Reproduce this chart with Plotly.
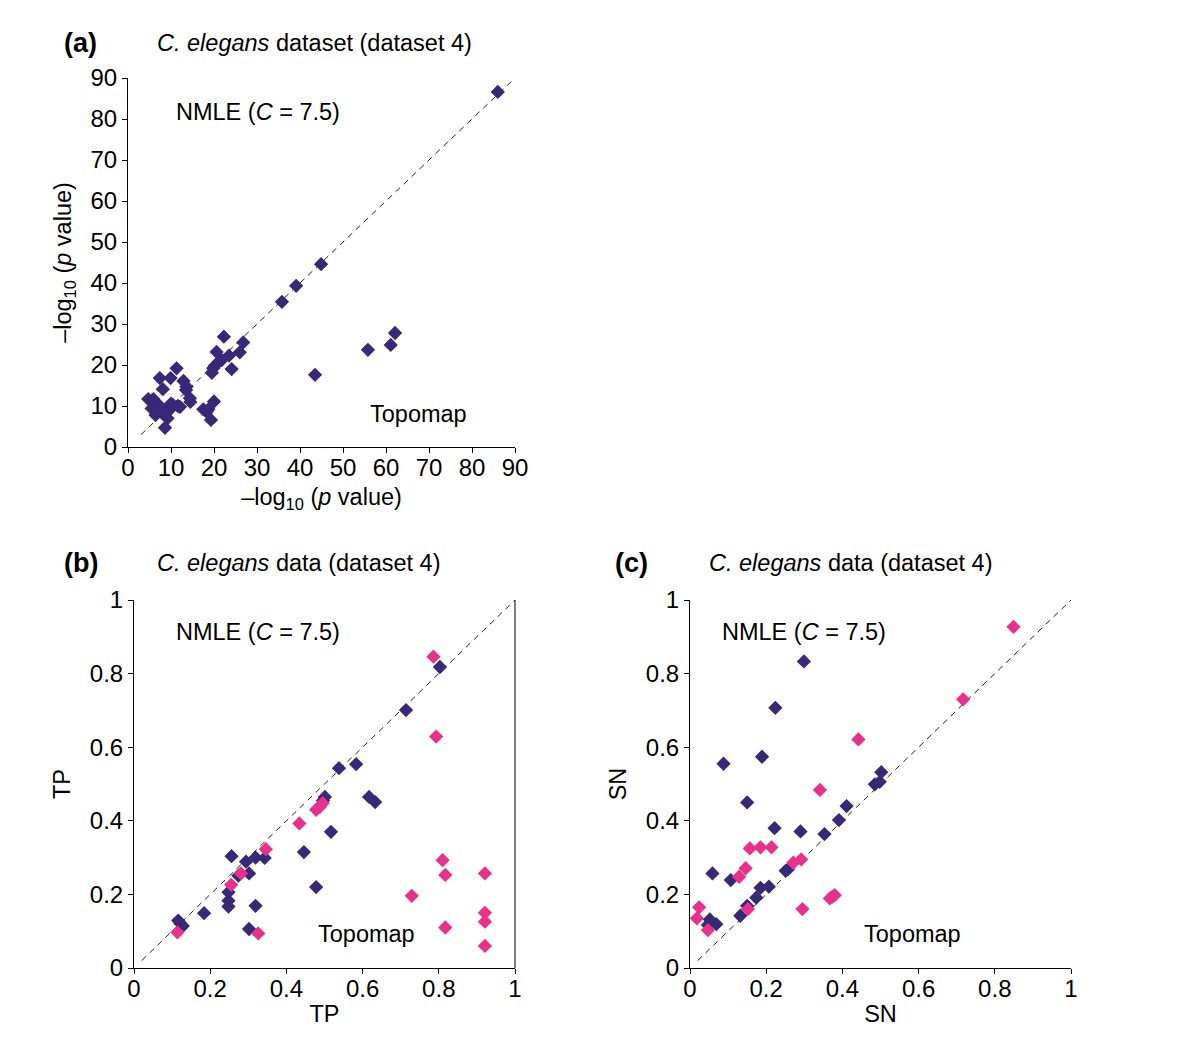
import plotly.graph_objects as go

# ---------------- data ----------------
# Panel (a): -log10(p value), Topomap (x) vs NMLE (y)
a_x = [86.0, 44.9, 39.1, 35.8, 62.1, 61.1, 55.8, 43.5,
       22.3, 26.8, 26.0, 20.6, 23.5, 21.8, 21.0, 20.2, 19.8, 24.1, 19.5,
       11.3, 12.9, 13.6, 13.5, 14.4, 7.4, 9.9, 8.1, 4.7, 5.9, 5.5, 6.7, 6.4,
       9.4, 10.5, 12.1, 9.0, 9.2, 8.6, 9.7, 17.5, 18.7, 20.0, 19.3, 18.3,
       11.6, 8.0, 14.5, 10.0, 7.0]
a_y = [86.6, 44.6, 39.3, 35.4, 27.8, 24.9, 23.7, 17.6,
       26.9, 25.5, 23.1, 23.2, 22.3, 21.2, 20.7, 19.8, 19.2, 19.0, 18.1,
       19.2, 16.1, 14.7, 13.9, 11.9, 16.8, 16.8, 14.1, 11.7, 11.7, 9.4, 9.0, 7.8,
       9.7, 10.2, 9.8, 8.4, 7.0, 4.7, 9.1, 9.2, 9.2, 11.1, 6.6, 8.6,
       10.0, 8.2, 11.0, 10.6, 10.4]

# Panel (b): TP, navy and pink series
b_navy_x = [0.803, 0.714, 0.583, 0.538, 0.617, 0.633, 0.501, 0.517, 0.446, 0.478,
            0.256, 0.294, 0.319, 0.343, 0.302, 0.274, 0.248, 0.248, 0.248, 0.319,
            0.184, 0.116, 0.128, 0.122, 0.302, 0.496]
b_navy_y = [0.818, 0.701, 0.554, 0.543, 0.465, 0.451, 0.465, 0.370, 0.315, 0.220,
            0.304, 0.289, 0.300, 0.299, 0.257, 0.251, 0.206, 0.183, 0.167, 0.169,
            0.149, 0.129, 0.114, 0.121, 0.106, 0.455]
b_pink_x = [0.114, 0.255, 0.281, 0.346, 0.326, 0.434, 0.478, 0.488, 0.495,
            0.786, 0.793, 0.810, 0.817, 0.921, 0.729, 0.921, 0.921, 0.817, 0.921]
b_pink_y = [0.097, 0.226, 0.257, 0.323, 0.094, 0.393, 0.430, 0.438, 0.448,
            0.846, 0.629, 0.293, 0.253, 0.257, 0.196, 0.150, 0.126, 0.110, 0.060]

# Panel (c): SN, navy and pink series
c_navy_x = [0.299, 0.224, 0.088, 0.189, 0.502, 0.498, 0.485, 0.150, 0.411, 0.391,
            0.222, 0.290, 0.353, 0.251, 0.257, 0.059, 0.107, 0.185, 0.207, 0.174,
            0.150, 0.132, 0.052, 0.069, 0.047]
c_navy_y = [0.833, 0.707, 0.555, 0.574, 0.532, 0.506, 0.499, 0.450, 0.440, 0.402,
            0.380, 0.371, 0.364, 0.264, 0.268, 0.257, 0.239, 0.218, 0.221, 0.191,
            0.169, 0.142, 0.132, 0.119, 0.117]
c_pink_x = [0.849, 0.717, 0.442, 0.341, 0.157, 0.185, 0.214, 0.292, 0.271, 0.146,
            0.129, 0.367, 0.374, 0.380, 0.295, 0.152, 0.024, 0.018, 0.047]
c_pink_y = [0.927, 0.730, 0.621, 0.484, 0.325, 0.328, 0.328, 0.295, 0.286, 0.271,
            0.248, 0.189, 0.194, 0.198, 0.160, 0.160, 0.165, 0.135, 0.103]

diag_a = [3, 90]
diag_bc = [0.02, 1.0]

a_ticks = [0, 10, 20, 30, 40, 50, 60, 70, 80, 90]
bc_ticks = [0, 0.2, 0.4, 0.6, 0.8, 1]
bc_ticklabels = ["0", "0.2", "0.4", "0.6", "0.8", "1"]

NAVY = "#382878"
PINK = "#e8318a"
FONT = "Liberation Sans, Arial, sans-serif"
TXT = 23.5

fig = go.Figure()

def add_panel(xs_list, ys_list, colors, diag, xa, ya):
    fig.add_trace(go.Scatter(x=diag, y=diag, mode="lines",
                             line=dict(color="#222222", width=1, dash="6px,5px"),
                             xaxis=xa, yaxis=ya, showlegend=False, hoverinfo="skip"))
    for xs, ys, col in zip(xs_list, ys_list, colors):
        fig.add_trace(go.Scatter(x=xs, y=ys, mode="markers",
                                 marker=dict(symbol="diamond", size=11, color=col,
                                             line=dict(width=0)),
                                 xaxis=xa, yaxis=ya, showlegend=False))

add_panel([a_x], [a_y], [NAVY], diag_a, "x", "y")
add_panel([b_navy_x, b_pink_x], [b_navy_y, b_pink_y], [NAVY, PINK], diag_bc, "x2", "y2")
add_panel([c_navy_x, c_pink_x], [c_navy_y, c_pink_y], [NAVY, PINK], diag_bc, "x3", "y3")

W, H = 1200, 1043
OFF = 8  # page body margin
ML, MR, MT, MB = 40, 40, 40, 40
PW, PH = W - ML - MR, H - MT - MB
def px_x(p): return (p - OFF - ML) / PW
def px_y(p): return 1 - (p - OFF - MT) / PH

axis_common = dict(showgrid=False, zeroline=False, showline=True, linecolor="black",
                   linewidth=1, ticks="outside", ticklen=5, tickcolor="black",
                   automargin=False,
                   tickfont=dict(family=FONT, size=24, color="black"))
xax = dict(ticklabelstandoff=-6, **axis_common)

fig.update_layout(
    width=W, height=H, margin=dict(l=ML, r=MR, t=MT, b=MB, autoexpand=False),
    paper_bgcolor="white", plot_bgcolor="white",
    font=dict(family=FONT, size=TXT, color="black"),
    xaxis=dict(domain=[px_x(128), px_x(515)], range=[0, 90], tickvals=a_ticks,
               anchor="y", title=dict(text="–log<sub>10</sub> (<i>p</i> value)",
                                      font=dict(size=TXT), standoff=8), **xax),
    yaxis=dict(domain=[px_y(447), px_y(78)], range=[0, 90], tickvals=a_ticks,
               anchor="x", title=dict(text="–log<sub>10</sub> (<i>p</i> value)",
                                      font=dict(size=TXT), standoff=12), **axis_common),
    xaxis2=dict(domain=[px_x(134), px_x(515)], range=[0, 1], tickvals=bc_ticks,
                ticktext=bc_ticklabels, anchor="y2",
                title=dict(text="TP", font=dict(size=TXT), standoff=4), **xax),
    yaxis2=dict(domain=[px_y(968), px_y(600)], range=[0, 1], tickvals=bc_ticks,
                ticktext=bc_ticklabels, anchor="x2",
                title=dict(text="TP", font=dict(size=TXT), standoff=12), **axis_common),
    xaxis3=dict(domain=[px_x(690), px_x(1071)], range=[0, 1], tickvals=bc_ticks,
                ticktext=bc_ticklabels, anchor="y3",
                title=dict(text="SN", font=dict(size=TXT), standoff=4), **xax),
    yaxis3=dict(domain=[px_y(968), px_y(600)], range=[0, 1], tickvals=bc_ticks,
                ticktext=bc_ticklabels, anchor="x3",
                title=dict(text="SN", font=dict(size=TXT), standoff=12), **axis_common),
)

# right border of panel (b)
fig.add_shape(type="line", xref="x2 domain", yref="y2 domain", x0=1, x1=1, y0=0, y1=1,
              line=dict(color="black", width=1))

def ann(x, y, text, size=TXT, xanchor="left"):
    fig.add_annotation(xref="paper", yref="paper", x=px_x(x), y=px_y(y), text=text,
                       showarrow=False, xanchor=xanchor, yanchor="middle",
                       font=dict(family=FONT, size=size, color="black"))

ann(62, 43, "<b>(a)</b>", 27)
ann(155, 43, "<i>C. elegans</i> dataset (dataset 4)")
ann(174, 112, "NMLE (<i>C</i> = 7.5)")
ann(368, 414, "Topomap")

ann(62, 563, "<b>(b)</b>", 27)
ann(155, 563, "<i>C. elegans</i> data (dataset 4)")
ann(174, 632, "NMLE (<i>C</i> = 7.5)")
ann(316, 934, "Topomap")

ann(613, 563, "<b>(c)</b>", 27)
ann(707, 563, "<i>C. elegans</i> data (dataset 4)")
ann(720, 632, "NMLE (<i>C</i> = 7.5)")
ann(862, 934, "Topomap")

fig.write_html("out.html")
